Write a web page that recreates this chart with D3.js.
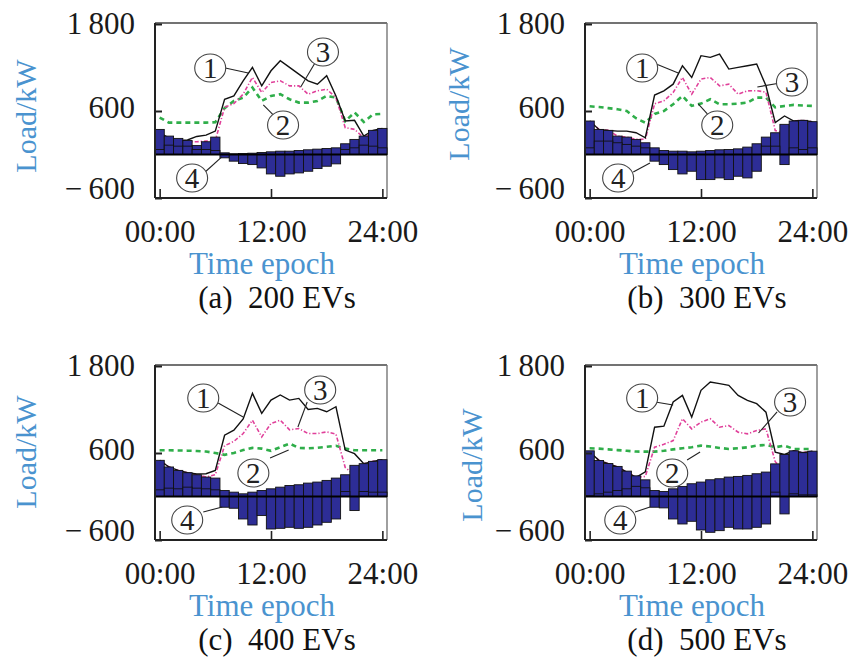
<!DOCTYPE html>
<html><head><meta charset="utf-8">
<script src="https://cdn.jsdelivr.net/npm/d3@7"></script>
<style>
body{margin:0;background:#fff}
svg{display:block}
text{font-family:"Liberation Serif","Times New Roman",serif}
</style>
</head><body>
<svg id="chart" width="852" height="671"></svg>
<script>
// ---------------- data ----------------
const hours = d3.range(0, 25);
const xTickValues = [0, 12, 24];
const xTickLabels = ["00:00", "12:00", "24:00"];
const yTickValues = [-600, 600, 1800];
const yTickLabels = ["\u2212\u2009600", "600", "1\u2009800"];
const panelCaptions = ["(a)\u00a0 200 EVs", "(b)\u00a0 300 EVs", "(c)\u00a0 400 EVs", "(d)\u00a0 500 EVs"];
const yTitle = "Load/kW";
const xTitle = "Time epoch";
const curveNames = ["1", "2", "3", "4"];

// (a) 200 EVs
const barsA_200 = [346, 254, 222, 194, 125, 176, 240, -46, -92, -125, -139, -185, -268, -300, -268, -254, -231, -194, -162, -129, 148, 208, 254, 333, 360];
const barsB_200 = [69, 129, 115, 115, 69, 69, 55, 23, 9, 14, 18, 28, 37, 46, 46, 55, 65, 74, 83, 92, 69, 92, 129, 115, 92];
const total_200 = [300, 230, 190, 200, 249, 268, 323, 762, 808, 1016, 1201, 947, 1155, 1294, 1201, 1109, 1016, 970, 1086, 808, 462, 471, 254, 333, 360];
const opt_200   = [510, 440, 439, 439, 439, 439, 445, 640, 739, 785, 924, 739, 808, 832, 762, 716, 716, 739, 808, 785, 460, 580, 450, 554, 560];
const mid_200   = [290, 220, 180, 175, 176, 185, 194, 650, 702, 832, 1063, 855, 993, 1016, 947, 947, 832, 878, 901, 785, 370, 347, 231, 300, 330];

// (b) 300 EVs
const barsA_300 = [462, 346, 333, 254, 240, 208, 162, -92, -139, -208, -268, -231, -346, -346, -323, -346, -300, -323, -231, 240, 300, 416, 462, 471, 453];
const barsB_300 = [92, 185, 185, 162, 139, 115, 92, 92, 55, 46, 46, 37, 46, 55, 65, 69, 78, 102, 148, 115, 115, -139, 92, 69, 92];
const total_300 = [462, 346, 333, 323, 323, 300, 231, 820, 878, 970, 1224, 1063, 1363, 1340, 1386, 1178, 1201, 1224, 1247, 947, 439, 531, 462, 471, 453];
const opt_300   = [665, 655, 640, 624, 600, 500, 439, 560, 600, 693, 808, 670, 702, 762, 693, 693, 702, 716, 785, 785, 650, 670, 684, 675, 670];
const mid_300   = [462, 346, 333, 254, 240, 208, 210, 700, 740, 855, 1063, 832, 1040, 1063, 947, 970, 832, 878, 880, 860, 330, 300, 462, 471, 453];

// (c) 400 EVs
const barsA_400 = [499, 407, 360, 328, 300, 268, 254, -148, -162, -310, -393, -263, -448, -439, -425, -439, -425, -393, -356, -310, 300, 430, 453, 485, 508];
const barsB_400 = [92, 115, 106, 129, 115, 106, 92, 83, 60, 37, 60, 83, 106, 129, 152, 162, 185, 199, 222, 254, 69, -194, 69, 60, 60];
const total_400 = [499, 407, 360, 328, 310, 314, 360, 845, 915, 1070, 1423, 1146, 1330, 1400, 1330, 1353, 1200, 1215, 1169, 1238, 640, 591, 453, 485, 508];
const opt_400   = [637, 637, 635, 632, 628, 620, 600, 575, 600, 640, 670, 660, 630, 680, 730, 670, 665, 672, 685, 700, 660, 637, 637, 637, 637];
const mid_400   = [499, 407, 360, 328, 300, 268, 300, 700, 760, 868, 1053, 822, 1007, 1053, 920, 938, 868, 868, 891, 860, 400, 300, 453, 485, 508];

// (d) 500 EVs
const barsA_500 = [630, 497, 455, 415, 350, 285, 230, -148, -157, -310, -379, -342, -462, -494, -471, -425, -448, -448, -425, -379, 450, 580, 630, 605, 625];
const barsB_500 = [10, 37, 60, 83, 106, 140, 120, 83, 69, 106, 139, 176, 199, 231, 245, 268, 277, 291, 314, 337, 60, -240, 37, 23, 23];
const total_500 = [614, 499, 453, 407, 337, 263, 340, 956, 970, 1303, 1395, 1095, 1465, 1580, 1557, 1534, 1395, 1326, 1280, 1164, 610, 580, 630, 605, 625];
const opt_500   = [665, 660, 650, 640, 630, 620, 619, 619, 630, 650, 665, 680, 702, 690, 670, 656, 665, 679, 702, 711, 679, 702, 656, 656, 656];
const mid_500   = [614, 499, 453, 407, 337, 263, 277, 680, 720, 771, 1072, 933, 1026, 1072, 956, 979, 887, 864, 910, 933, 480, 350, 630, 605, 625];

const panelData = [
  {caption: panelCaptions[0], barsA: barsA_200, barsB: barsB_200, total: total_200, opt: opt_200, mid: mid_200},
  {caption: panelCaptions[1], barsA: barsA_300, barsB: barsB_300, total: total_300, opt: opt_300, mid: mid_300},
  {caption: panelCaptions[2], barsA: barsA_400, barsB: barsB_400, total: total_400, opt: opt_400, mid: mid_400},
  {caption: panelCaptions[3], barsA: barsA_500, barsB: barsB_500, total: total_500, opt: opt_500, mid: mid_500}
];

// ---------------- layout ----------------
const panelOffsets = [[0, 0], [430, 0], [0, 342], [430, 342]];
const yTitlePos = [[36, 116], [39, 104], [36, 110], [52, 123]];
// annotation anchors in data units (hour, kW)
const annotations = [
  [ {c:[5.45,1194], a:[7.07,1194], b:[9.55,1125]},
    {c:[13.3,407],  a:[12.24,545], b:[11.17,683]},
    {c:[17.6,1414], a:[16.8,1276], b:[15.2,931]},
    {c:[3.5,-324],  a:[4.9,-241],  b:[6.7,-34]} ],
  [ {c:[5.66,1194], a:[7.17,1249], b:[9.55,1125]},
    {c:[13.75,407], a:[12.78,545], b:[11.7,697]},
    {c:[21.8,1000], a:[20.55,987], b:[18.07,931]},
    {c:[3.07,-324], a:[4.7,-241],  b:[6.5,-117]} ],
  [ {c:[4.7,1359],  a:[6.3,1290],  b:[9.0,1097]},
    {c:[10.1,324],  a:[11.9,531],  b:[13.9,642]},
    {c:[17.3,1470], a:[15.9,1304], b:[14.9,959]},
    {c:[2.97,-324], a:[4.7,-214],  b:[6.74,-145]} ],
  [ {c:[5.66,1359], a:[7.07,1304], b:[9.0,1263]},
    {c:[8.9,324],   a:[10.5,504],  b:[11.9,614]},
    {c:[21.6,1304], a:[20.2,1166], b:[18.2,876]},
    {c:[3.3,-324],  a:[4.9,-214],  b:[6.5,-145]} ]
];

const svg = d3.select("#chart");
const L = 155, R = 387, T = 24, B = 198;
const x = d3.scaleLinear().domain([-0.5, 24.5]).range([L, R]);
const y = d3.scaleLinear().domain([-600, 1800]).range([B, T]);
const blue = "#4a93cf";
const barFill = "#2d2d96";

panelData.forEach((p, i) => {
  const [ox, oy] = panelOffsets[i];
  const g = svg.append("g").attr("transform", `translate(${ox},${oy})`);

  // frame
  g.append("line").attr("x1", L).attr("x2", R).attr("y1", T - 1).attr("y2", T - 1)
    .attr("stroke", "#444").attr("stroke-width", 1.6);
  g.append("line").attr("x1", R).attr("x2", R).attr("y1", T - 1).attr("y2", B)
    .attr("stroke", "#777").attr("stroke-width", 1.4);

  // lines
  const lineGen = d3.line().x((d, j) => x(hours[j])).y(d => y(d));
  g.append("path").datum(p.opt).attr("d", lineGen).attr("fill", "none")
    .attr("stroke", "#2fae4a").attr("stroke-width", 2.6).attr("stroke-dasharray", "5,4");
  g.append("path").datum(p.mid).attr("d", lineGen).attr("fill", "none")
    .attr("stroke", "#e0409a").attr("stroke-width", 1.6).attr("stroke-dasharray", "4,2,1.2,2");
  g.append("path").datum(p.total).attr("d", lineGen).attr("fill", "none")
    .attr("stroke", "#111").attr("stroke-width", 1.4);

  // bars
  const bw = x(1) - x(0);
  [p.barsA, p.barsB].forEach(series => {
    g.append("g").selectAll("rect").data(series).join("rect")
      .attr("x", (d, j) => x(hours[j]) - bw / 2)
      .attr("width", bw)
      .attr("y", d => Math.min(y(d), y(0)))
      .attr("height", d => Math.abs(y(d) - y(0)))
      .attr("fill", barFill).attr("stroke", "#111").attr("stroke-width", 0.9);
  });

  // zero line
  g.append("line").attr("x1", L).attr("x2", R).attr("y1", y(0)).attr("y2", y(0))
    .attr("stroke", "#000").attr("stroke-width", 2);

  // y axis
  const yAxis = d3.axisLeft(y).tickValues(yTickValues).tickSize(-7).tickPadding(20)
    .tickFormat((d, j) => yTickLabels[j]);
  const ya = g.append("g").attr("transform", `translate(${L},0)`).call(yAxis);
  ya.select(".domain").attr("stroke", "#222").attr("stroke-width", 2)
    .attr("d", `M0,${T - 1}V${B}`);
  ya.selectAll(".tick line").attr("stroke", "#222").attr("stroke-width", 2);
  ya.selectAll(".tick text").attr("font-size", 31).attr("fill", "#1a1a1a")
    .attr("font-family", "Liberation Serif")
    .attr("dy", d => d === -600 ? "-0.0em" : d === 600 ? "0.22em" : "0.32em");

  // x axis
  const xAxis = d3.axisBottom(x).tickValues(xTickValues).tickSize(-9).tickPadding(22)
    .tickFormat((d, j) => xTickLabels[j]);
  const xa = g.append("g").attr("transform", `translate(0,${B})`).call(xAxis);
  xa.select(".domain").attr("stroke", "#222").attr("stroke-width", 2)
    .attr("d", `M${L},0H${R}`);
  xa.selectAll(".tick line").attr("stroke", "#222").attr("stroke-width", 1.6);
  xa.selectAll(".tick text").attr("font-size", 31).attr("fill", "#1a1a1a")
    .attr("font-family", "Liberation Serif");

  // titles
  const [tx, ty] = yTitlePos[i];
  g.append("text").attr("transform", `translate(${tx},${ty}) rotate(-90)`)
    .attr("text-anchor", "middle").attr("font-size", 30).attr("fill", blue)
    .attr("font-family", "Liberation Serif").text(yTitle);
  g.append("text").attr("x", 262).attr("y", 274).attr("text-anchor", "middle")
    .attr("font-size", 31).attr("fill", blue).attr("font-family", "Liberation Serif").text(xTitle);
  g.append("text").attr("x", 277).attr("y", 308).attr("text-anchor", "middle")
    .attr("font-size", 31).attr("fill", "#111").attr("font-family", "Liberation Serif").text(p.caption);

  // circled labels
  annotations[i].forEach((an, k) => {
    g.append("line").attr("x1", x(an.a[0])).attr("y1", y(an.a[1]))
      .attr("x2", x(an.b[0])).attr("y2", y(an.b[1]))
      .attr("stroke", "#222").attr("stroke-width", 1.1);
    g.append("ellipse").attr("cx", x(an.c[0])).attr("cy", y(an.c[1]))
      .attr("rx", 15.5).attr("ry", 14).attr("fill", "#fff")
      .attr("stroke", "#444").attr("stroke-width", 1.1);
    g.append("text").attr("x", x(an.c[0])).attr("y", y(an.c[1])).attr("dy", "0.34em")
      .attr("text-anchor", "middle").attr("font-size", 29).attr("fill", "#222")
      .attr("font-family", "Liberation Serif").text(curveNames[k]);
  });
});
</script>
</body></html>
